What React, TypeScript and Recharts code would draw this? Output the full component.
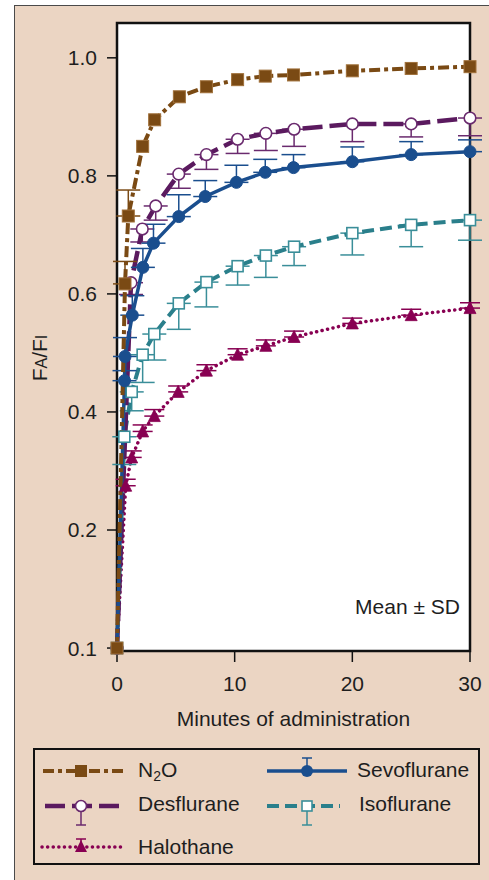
import React from 'react';
import { LineChart, Line, XAxis, YAxis, ErrorBar, CartesianGrid, ReferenceArea } from 'recharts';

const FONT = '"Liberation Sans", Arial, Helvetica, sans-serif';

const xTicks = [0, 10, 20, 30];
const yTicks = [0, 0.2, 0.4, 0.6, 0.8, 1.0];
const yTickLabels = ['0.1', '0.2', '0.4', '0.6', '0.8', '1.0'];
const xDomain = [0, 30];
const yDomain = [-0.005, 1.059];

const n2oTime = [0, 0.68, 0.96, 2.18, 3.2, 5.3, 7.6, 10.25, 12.6, 15, 20, 25, 30];
const n2oValue = [0, 0.617, 0.732, 0.85, 0.895, 0.934, 0.951, 0.963, 0.969, 0.971, 0.978, 0.982, 0.985];
const n2oSdUp = [0, 0.038, 0.044, 0, 0, 0, 0, 0, 0, 0, 0, 0, 0];

const desTime = [0, 1.19, 2.15, 3.29, 5.25, 7.6, 10.25, 12.65, 15.05, 20, 25, 30];
const desValue = [0, 0.619, 0.71, 0.749, 0.803, 0.836, 0.862, 0.872, 0.879, 0.888, 0.888, 0.898];
const desSdDown = [0, 0.02, 0.022, 0.024, 0.024, 0.025, 0.024, 0.029, 0.029, 0.03, 0.022, 0.03];

const sevoTime = [0, 0.64, 0.68, 1.3, 2.2, 3.1, 5.25, 7.5, 10.15, 12.6, 15, 20, 25, 30];
const sevoValue = [0, 0.453, 0.494, 0.564, 0.645, 0.686, 0.731, 0.765, 0.789, 0.806, 0.814, 0.824, 0.836, 0.841];
const sevoSdUp = [0, 0.017, 0.032, 0.033, 0.032, 0.032, 0.037, 0.027, 0.029, 0.022, 0.022, 0.025, 0.022, 0.02];

const isoTime = [0, 0.62, 1.25, 2.18, 3.17, 5.25, 7.6, 10.25, 12.65, 15.05, 20, 25, 30];
const isoValue = [0, 0.358, 0.434, 0.497, 0.532, 0.584, 0.62, 0.647, 0.665, 0.68, 0.703, 0.717, 0.725];
const isoSdDown = [0, 0.047, 0.032, 0.047, 0.044, 0.044, 0.042, 0.032, 0.037, 0.032, 0.037, 0.037, 0.034];

const halTime = [0, 0.74, 1.25, 2.18, 3.17, 5.2, 7.6, 10.25, 12.65, 15.05, 20, 25, 30];
const halValue = [0, 0.275, 0.323, 0.367, 0.393, 0.434, 0.47, 0.497, 0.512, 0.527, 0.55, 0.564, 0.576];
const halSdUp = [0, 0.011, 0.011, 0.011, 0.011, 0.01, 0.01, 0.01, 0.01, 0.01, 0.009, 0.01, 0.009];

const C_N2O = '#7a4a14';
const C_DES = '#5b1a5f';
const C_SEVO = '#1a4e8e';
const C_ISO = '#2a7f8b';
const C_HAL = '#880052';
const BEIGE = '#ebd5c3';

type Row = { t: number; v: number; err?: number[] };
const build = (t: number[], v: number[], lo: number[], hi: number[]): Row[] =>
  t.map((x, i) => ({ t: x, v: v[i], err: lo[i] || hi[i] ? [lo[i], hi[i]] : undefined }));

const zeros = (n: number) => new Array(n).fill(0);
const n2oData = build(n2oTime, n2oValue, zeros(n2oTime.length), n2oSdUp);
const desData = build(desTime, desValue, desSdDown, zeros(desTime.length));
const sevoData = build(sevoTime, sevoValue, zeros(sevoTime.length), sevoSdUp);
const isoData = build(isoTime, isoValue, isoSdDown, zeros(isoTime.length));
const halData = build(halTime, halValue, zeros(halTime.length), halSdUp);

const SquareDot = (fill: string, stroke: string, size: number, sw: number) => (p: any) => {
  if (p.cx == null || p.cy == null) return <g key={p.index} />;
  return (
    <rect key={p.index} x={p.cx - size / 2} y={p.cy - size / 2} width={size} height={size}
      fill={fill} stroke={stroke} strokeWidth={sw} />
  );
};
const CircleDot = (fill: string, stroke: string, r: number, sw: number) => (p: any) => {
  if (p.cx == null || p.cy == null) return <g key={p.index} />;
  return <circle key={p.index} cx={p.cx} cy={p.cy} r={r} fill={fill} stroke={stroke} strokeWidth={sw} />;
};
const TriDot = (fill: string, stroke: string) => (p: any) => {
  if (p.cx == null || p.cy == null) return <g key={p.index} />;
  const w = 12, h = 11;
  return (
    <path key={p.index}
      d={`M${p.cx},${p.cy - h / 2 - 1} L${p.cx + w / 2},${p.cy + h / 2} L${p.cx - w / 2},${p.cy + h / 2} Z`}
      fill={fill} stroke={stroke} strokeWidth={0.8} />
  );
};

const fmtY = (v: number) => {
  const i = yTicks.findIndex((t) => Math.abs(t - v) < 1e-9);
  return i >= 0 ? yTickLabels[i] : String(v);
};

const tickStyle = { fontSize: 21, fill: '#1e1e1e', fontFamily: FONT };

export default function App() {
  return (
    <div style={{ position: 'absolute', left: 0, top: 0, width: 489, height: 880, overflow: 'hidden', background: '#fff', fontFamily: FONT }}>
      <div style={{ position: 'absolute', left: 14, top: 5, width: 490, height: 890, background: BEIGE, borderLeft: '1.5px solid #4a4a4a', borderTop: '1.5px solid #4a4a4a' }} />
      <div style={{ position: 'absolute', left: 0, top: 0 }}>
        <LineChart width={489} height={740} margin={{ top: 23, right: 19, left: 57, bottom: 9 }} style={{ fontFamily: FONT }}>
          <CartesianGrid horizontal={false} vertical={false} fill="#ffffff" />
          <XAxis dataKey="t" type="number" domain={xDomain} ticks={xTicks}
            axisLine={false} tickLine={{ stroke: '#111', strokeWidth: 1.5 }} tickSize={11} tickMargin={14}
            height={80} tick={tickStyle} interval={0} />
          <YAxis dataKey="v" type="number" domain={yDomain} ticks={yTicks}
            axisLine={false} tickLine={{ stroke: '#111', strokeWidth: 1.5 }} tickSize={10} tickMargin={10}
            width={60} tick={tickStyle} tickFormatter={fmtY} interval={0} />
          <ReferenceArea x1={xDomain[0]} x2={xDomain[1]} y1={yDomain[0]} y2={yDomain[1]}
            fill="none" fillOpacity={0} stroke="#111" strokeWidth={2.5} ifOverflow="visible" />
          <Line data={halData} dataKey="v" type="linear" stroke={C_HAL} strokeWidth={3.5}
            strokeDasharray="0.1 5.5" strokeLinecap="round" dot={TriDot(C_HAL, C_HAL)} activeDot={false}
            isAnimationActive={false}>
            <ErrorBar dataKey="err" width={10} stroke={C_HAL} strokeWidth={1.5} direction="y" />
          </Line>
          <Line data={isoData} dataKey="v" type="linear" stroke={C_ISO} strokeWidth={4}
            strokeDasharray="12 6" dot={SquareDot('#fff', '#3a8e99', 11, 1.6)} activeDot={false}
            isAnimationActive={false}>
            <ErrorBar dataKey="err" width={12} stroke="#3a8e99" strokeWidth={1.5} direction="y" />
          </Line>
          <Line data={desData} dataKey="v" type="linear" stroke={C_DES} strokeWidth={4.5}
            strokeDasharray="20 7" dot={CircleDot('#fff', '#6a2a6e', 5.8, 1.6)} activeDot={false}
            isAnimationActive={false}>
            <ErrorBar dataKey="err" width={12} stroke="#6a2a6e" strokeWidth={1.5} direction="y" />
          </Line>
          <Line data={sevoData} dataKey="v" type="linear" stroke={C_SEVO} strokeWidth={3.5}
            dot={CircleDot(C_SEVO, C_SEVO, 6, 1)} activeDot={false} isAnimationActive={false}>
            <ErrorBar dataKey="err" width={12} stroke={C_SEVO} strokeWidth={1.5} direction="y" />
          </Line>
          <Line data={n2oData} dataKey="v" type="linear" stroke={C_N2O} strokeWidth={4}
            strokeDasharray="11 4 4 4" dot={SquareDot(C_N2O, '#a0703a', 12, 1)} activeDot={false}
            isAnimationActive={false}>
            <ErrorBar dataKey="err" width={12} stroke={C_N2O} strokeWidth={1.5} direction="y" />
          </Line>
        </LineChart>
      </div>

      <div style={{ position: 'absolute', left: 33, top: 748, width: 447, height: 117, border: '2px solid #111', boxSizing: 'border-box' }} />

      <svg width={489} height={880} style={{ position: 'absolute', left: 0, top: 0, pointerEvents: 'none' }}
        fontFamily={FONT}>
        <text x={47} y={358} transform="rotate(-90 47 358)" textAnchor="middle" fontSize={21} fill="#1e1e1e">
          F<tspan fontSize={16}>A</tspan>/F<tspan fontSize={16}>I</tspan>
        </text>
        <text x={293.5} y={726} textAnchor="middle" fontSize={21} fill="#1e1e1e">Minutes of administration</text>
        <text x={460} y={614} textAnchor="end" fontSize={21} fill="#1e1e1e">Mean ± SD</text>

        <line x1={43} y1={771} x2={127} y2={771} stroke={C_N2O} strokeWidth={4} strokeDasharray="11 4 4 4" />
        <rect x={75} y={765} width={12} height={12} fill={C_N2O} />
        <text x={138} y={777} fontSize={21} fill="#1e1e1e">N<tspan fontSize={14} dy={4}>2</tspan><tspan dy={-4}>O</tspan></text>

        <line x1={267} y1={771} x2={347} y2={771} stroke={C_SEVO} strokeWidth={3.5} />
        <line x1={307} y1={771} x2={307} y2={758} stroke={C_SEVO} strokeWidth={1.5} />
        <line x1={302} y1={758} x2={312} y2={758} stroke={C_SEVO} strokeWidth={1.5} />
        <circle cx={307} cy={771} r={6} fill={C_SEVO} />
        <text x={357} y={777} fontSize={21} fill="#1e1e1e">Sevoflurane</text>

        <line x1={45} y1={806} x2={122} y2={806} stroke={C_DES} strokeWidth={4.5} strokeDasharray="20 7" />
        <line x1={81} y1={806} x2={81} y2={825} stroke="#6a2a6e" strokeWidth={1.5} />
        <line x1={76} y1={825} x2={86} y2={825} stroke="#6a2a6e" strokeWidth={1.5} />
        <circle cx={81} cy={806} r={5.5} fill="#fff" stroke="#6a2a6e" strokeWidth={1.6} />
        <text x={138} y={811} fontSize={21} fill="#1e1e1e">Desflurane</text>

        <line x1={267} y1={806} x2={340} y2={806} stroke={C_ISO} strokeWidth={4} strokeDasharray="12 6" />
        <line x1={307} y1={806} x2={307} y2={825} stroke="#3a8e99" strokeWidth={1.5} />
        <line x1={302} y1={825} x2={312} y2={825} stroke="#3a8e99" strokeWidth={1.5} />
        <rect x={302} y={801} width={10} height={10} fill="#fff" stroke="#3a8e99" strokeWidth={1.6} />
        <text x={359} y={811} fontSize={21} fill="#1e1e1e">Isoflurane</text>

        <line x1={42} y1={847} x2={123} y2={847} stroke={C_HAL} strokeWidth={3.5} strokeDasharray="0.1 5.5" strokeLinecap="round" />
        <line x1={81} y1={847} x2={81} y2={839} stroke={C_HAL} strokeWidth={1.5} />
        <line x1={76} y1={839} x2={86} y2={839} stroke={C_HAL} strokeWidth={1.5} />
        <path d="M81,840 L87,852 L75,852 Z" fill={C_HAL} />
        <text x={138} y={854} fontSize={21} fill="#1e1e1e">Halothane</text>
      </svg>
    </div>
  );
}
